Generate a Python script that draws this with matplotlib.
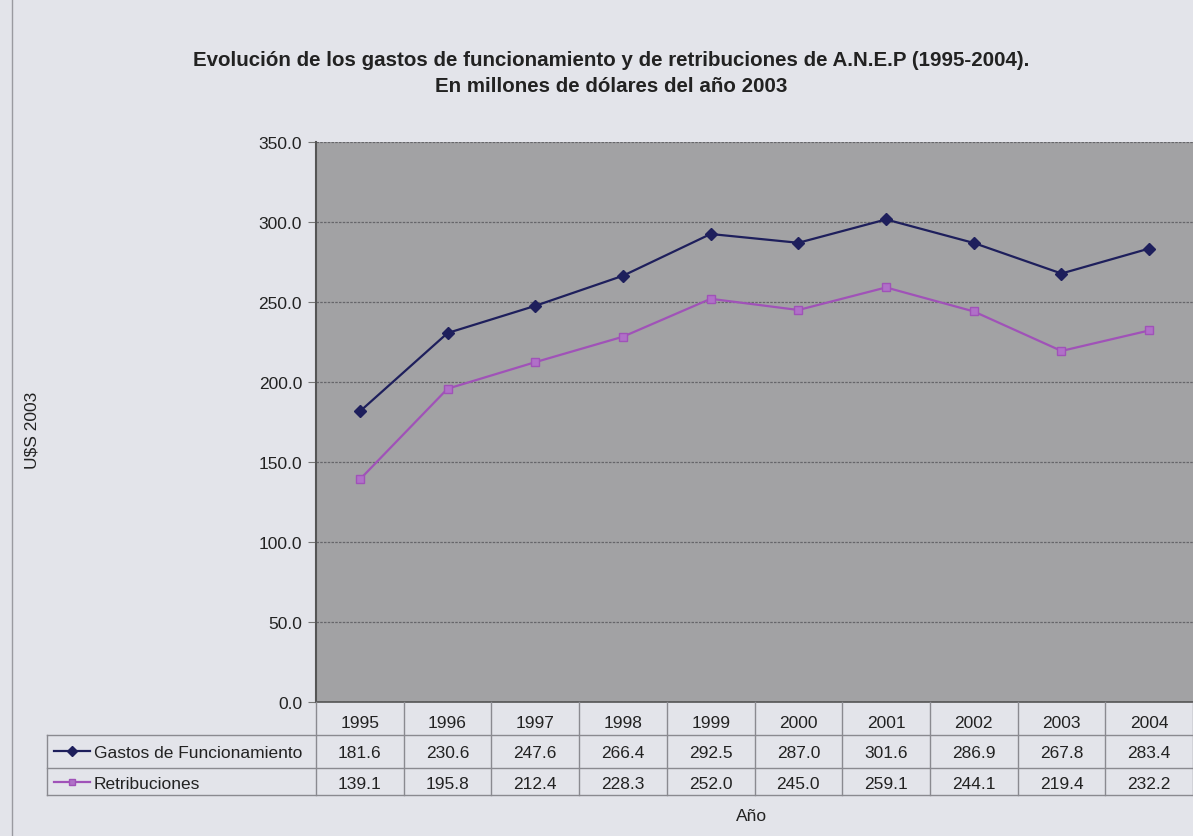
import matplotlib
matplotlib.use("Agg")
import matplotlib.pyplot as plt
from matplotlib.transforms import blended_transform_factory
from matplotlib.lines import Line2D

years = ["1995", "1996", "1997", "1998", "1999", "2000", "2001", "2002", "2003", "2004"]
gastos = [181.6, 230.6, 247.6, 266.4, 292.5, 287.0, 301.6, 286.9, 267.8, 283.4]
retrib = [139.1, 195.8, 212.4, 228.3, 252.0, 245.0, 259.1, 244.1, 219.4, 232.2]
series_names = ["Gastos de Funcionamiento", "Retribuciones"]
yticks = [0, 50, 100, 150, 200, 250, 300, 350]

plt.rcParams['font.family'] = ['Liberation Sans', 'DejaVu Sans']

W, H = 1193, 837
fig = plt.figure(figsize=(W / 100, H / 100), dpi=100)
fig.patch.set_facecolor('#e3e4ea')

ax = fig.add_axes([316 / W, 1 - 703 / H, (W - 316) / W, (703 - 143) / H])
ax.set_facecolor('#a2a2a4')
x = list(range(len(years)))
c1 = '#1e1f5c'
c2 = '#a052b8'
ax.plot(x, gastos, color=c1, lw=1.6, marker='D', ms=6, mfc=c1, mec=c1, zorder=3)
ax.plot(x, retrib, color=c2, lw=1.6, marker='s', ms=6, mfc='#b070c8', mec=c2, zorder=3)
ax.set_xlim(-0.5, len(years) - 0.5)
ax.set_ylim(0, 350)
ax.set_yticks(yticks)
ax.set_yticklabels([f"{v:.1f}" for v in yticks], fontsize=12.5, color='#222222')
ax.set_xticks([])
ax.grid(axis='y', color='#66666a', lw=0.9, ls=(0, (2, 1)))
ax.set_axisbelow(True)
for s in ['top', 'right']:
    ax.spines[s].set_visible(False)
ax.spines['bottom'].set_color('#555555')
ax.spines['bottom'].set_linewidth(1.2)
ax.spines['left'].set_color('#555555')
ax.spines['left'].set_linewidth(1.5)
ax.tick_params(axis='y', length=6, color='#777777', pad=4)

# Data table below the plot
tr = blended_transform_factory(ax.transData, fig.transFigure)
def fy(py):
    return 1 - py / H
line_kw = dict(color='#8a8a90', lw=1.0, transform=fig.transFigure, clip_on=False)
left_px = 47
fig.add_artist(Line2D([left_px / W, 1], [fy(736)] * 2, **line_kw))
fig.add_artist(Line2D([left_px / W, 1], [fy(769)] * 2, **line_kw))
fig.add_artist(Line2D([left_px / W, 1], [fy(796)] * 2, **line_kw))
fig.add_artist(Line2D([left_px / W] * 2, [fy(736), fy(796)], **line_kw))
for i in range(len(years) + 1):
    fig.add_artist(Line2D([i - 0.5] * 2, [fy(703), fy(796)], color='#8a8a90', lw=1.0,
                          transform=tr, clip_on=False))
fs = 12.5
for i, yr in enumerate(years):
    fig.text(i, fy(723), yr, transform=tr, ha='center', va='center', fontsize=fs, color='#222222')
    fig.text(i, fy(754), f"{gastos[i]:.1f}", transform=tr, ha='center', va='center', fontsize=fs, color='#222222')
    fig.text(i, fy(785), f"{retrib[i]:.1f}", transform=tr, ha='center', va='center', fontsize=fs, color='#222222')

for ry, col, mk, mfc in [(752, c1, 'D', c1), (783, c2, 's', '#b070c8')]:
    fig.add_artist(Line2D([54 / W, 90 / W], [fy(ry)] * 2, color=col, lw=1.6,
                          transform=fig.transFigure))
    fig.add_artist(Line2D([72 / W], [fy(ry)], color=col, marker=mk, ms=5, mfc=mfc, mec=col,
                          transform=fig.transFigure))
fig.text(94 / W, fy(754), series_names[0], ha='left', va='center', fontsize=fs, color='#222222')
fig.text(94 / W, fy(785), series_names[1], ha='left', va='center', fontsize=fs, color='#222222')

fig.text(752 / W, fy(817), "Año", ha='center', va='center', fontsize=fs, color='#222222')
fig.text(32 / W, fy(430), "U$S 2003", ha='center', va='center', rotation=90, fontsize=fs, color='#222222')

fig.text(611 / W, fy(60), "Evolución de los gastos de funcionamiento y de retribuciones de A.N.E.P (1995-2004).",
         ha='center', va='center', fontsize=14.8, fontweight='bold', color='#222222')
fig.text(611 / W, fy(86), "En millones de dólares del año 2003",
         ha='center', va='center', fontsize=14.8, fontweight='bold', color='#222222')

fig.add_artist(Line2D([12 / W] * 2, [0, 1], color='#9a9aa0', lw=1.0, transform=fig.transFigure))

fig.savefig("out.png", dpi=100, facecolor=fig.get_facecolor())
